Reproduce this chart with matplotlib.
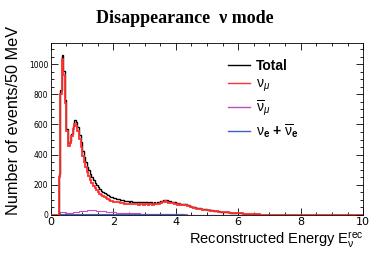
import numpy as np
import matplotlib
matplotlib.use("Agg")
import matplotlib.pyplot as plt
from matplotlib.ticker import MultipleLocator

plt.rcParams["mathtext.fontset"] = "custom"
plt.rcParams["mathtext.rm"] = "Liberation Sans"
plt.rcParams["mathtext.it"] = "Liberation Sans:italic"
plt.rcParams["mathtext.bf"] = "Liberation Sans:bold"

# 50 MeV bins from 0 to 10 GeV
bin_width = 0.05
n_bins = 200

# total events per bin, bins 0..149, the rest are 0
total_counts = [
    0, 0, 0, 0, 0, 270, 830, 1062, 955, 765,
    572, 475, 492, 540, 592, 628, 615, 585, 532, 482,
    425, 385, 350, 320, 295, 270, 250, 230, 212, 198,
    185, 172, 162, 153, 145, 138, 132, 126, 120, 116,
    112, 110, 106, 104, 102, 98, 96, 94, 92, 90,
    88, 90, 86, 88, 85, 87, 84, 86, 85, 83,
    86, 84, 82, 85, 83, 81, 84, 82, 86, 88,
    90, 94, 98, 102, 97, 92, 90, 88, 86, 85,
    80, 78, 79, 76, 73, 74, 70, 66, 63, 60,
    56, 53, 50, 47, 45, 43, 41, 40, 38, 37,
    36, 34, 32, 30, 29, 27, 26, 24, 23, 22,
    21, 20, 19, 18, 17, 16, 15, 14, 13, 13,
    12, 11, 10, 9, 9, 8, 7, 7, 6, 6,
    5, 5, 4, 4, 3, 3, 3, 2, 2, 2,
    2, 1, 1, 1, 1, 1, 1, 1, 0, 0,
]

# anti-numu contribution, bins 0..109
antinumu_counts = [
    0, 0, 0, 0, 0, 16, 22, 22, 19, 16,
    13, 12, 13, 15, 17, 19, 21, 23, 25, 26,
    27, 28, 29, 30, 30, 31, 31, 30, 30, 29,
    28, 27, 26, 25, 24, 23, 22, 21, 20, 19,
    18, 17, 16, 16, 15, 15, 14, 14, 13, 13,
    12, 12, 11, 11, 10, 10, 10, 9, 9, 9,
    9, 8, 8, 8, 8, 7, 7, 7, 7, 7,
    7, 6, 6, 6, 6, 6, 5, 5, 5, 5,
    5, 5, 4, 4, 4, 4, 4, 3, 3, 3,
    3, 3, 3, 2, 2, 2, 2, 2, 2, 2,
    2, 1, 1, 1, 1, 1, 1, 1, 1, 1,
]

# nue + anti-nue contribution, bins 0..119
nue_counts = [
    0, 0, 0, 0, 0, 3, 5, 6, 5, 4,
    4, 4, 4, 4, 4, 4, 5, 5, 5, 5,
    5, 5, 5, 5, 5, 5, 5, 5, 5, 5,
    5, 5, 5, 5, 5, 5, 5, 5, 5, 5,
    5, 5, 5, 5, 5, 5, 5, 5, 5, 5,
    5, 5, 5, 5, 5, 5, 5, 5, 5, 5,
    5, 5, 5, 5, 5, 5, 5, 5, 5, 5,
    4, 4, 4, 4, 4, 4, 4, 4, 4, 4,
    4, 4, 4, 4, 4, 3, 3, 3, 3, 3,
    3, 3, 3, 3, 3, 2, 2, 2, 2, 2,
    2, 2, 2, 2, 2, 1, 1, 1, 1, 1,
    1, 1, 1, 1, 1, 1, 1, 1, 1, 1,
]


def pad(vals):
    out = np.zeros(n_bins)
    out[:len(vals)] = vals
    return out


edges = np.linspace(0, bin_width * n_bins, n_bins + 1)
total = pad(total_counts)
antinumu = pad(antinumu_counts)
nue = pad(nue_counts)
numu = np.clip(total - antinumu - nue, 0, None)

fig = plt.figure(figsize=(3.74, 2.59), dpi=100)
ax = fig.add_axes([0.136, 0.170, 0.835, 0.664])

ax.stairs(total, edges, color="black", lw=1.0, label="Total", zorder=3)
ax.stairs(numu, edges, color="#ff3030", lw=1.3, label=r"$\mathrm{\nu}_\mu$", zorder=4)
ax.stairs(antinumu, edges, color="#c050c0", lw=0.8,
          label=r"$\overline{\mathrm{\nu}}_\mu$", zorder=2)
ax.stairs(nue, edges, color="#4060c0", lw=0.8,
          label=r"$\mathrm{\nu}_\mathbf{e}$ $\mathbf{+}$ $\overline{\mathrm{\nu}}_\mathbf{e}$", zorder=2)

ax.set_xlim(0, 10)
ax.set_ylim(0, 1140)
ax.xaxis.set_major_locator(MultipleLocator(2))
ax.xaxis.set_minor_locator(MultipleLocator(0.5))
ax.yaxis.set_major_locator(MultipleLocator(200))
ax.yaxis.set_minor_locator(MultipleLocator(50))
ax.tick_params(which="both", direction="in", top=True, right=True, width=0.6)
ax.tick_params(which="major", length=5)
ax.tick_params(which="minor", length=2.5)
ax.tick_params(axis="y", labelsize=5.5, pad=2)
ax.tick_params(axis="x", labelsize=8, pad=1.5)
for s in ax.spines.values():
    s.set_linewidth(0.6)

ax.set_ylabel("Number of events/50 MeV", fontsize=11.7, family="Liberation Sans")
ax.yaxis.set_label_coords(-0.095, 0.55)
ax.set_xlabel(r"Reconstructed Energy E$_\mathrm{\nu}^\mathrm{rec}$", fontsize=10.5,
              family="Liberation Sans", loc="right", labelpad=2)

fig.text(0.495, 0.93, "Disappearance  \u03bd mode", ha="center", va="center",
         fontsize=13, fontweight="bold", family="Liberation Serif")

leg = ax.legend(loc="upper left", bbox_to_anchor=(0.55, 0.94), frameon=False,
                fontsize=10, handlelength=1.6, handletextpad=0.4, labelspacing=0.3,
                borderaxespad=0)
leg.get_texts()[0].set_fontweight("bold")
for t in leg.get_texts():
    t.set_family("Liberation Sans")
for h in leg.legend_handles:
    h.set_linewidth(1.0)

fig.savefig("out.png", dpi=100)
